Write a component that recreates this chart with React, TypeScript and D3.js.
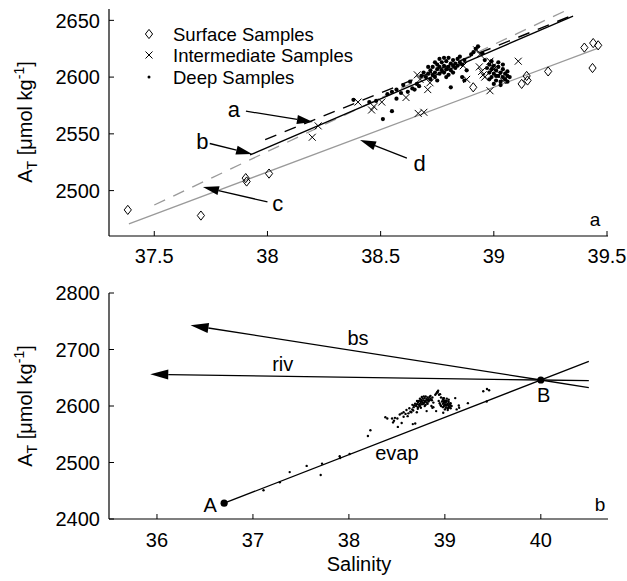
import React from "react";
import * as d3 from "d3";

// ---------- data ----------
const surfaceSamples: [number, number][] = [
  [37.383, 2483], [37.706, 2478], [37.904, 2511], [37.908, 2508], [38.007, 2515],
  [38.909, 2591], [39.123, 2594], [39.149, 2597], [39.145, 2601], [39.24, 2605],
  [39.40, 2626], [39.439, 2630], [39.461, 2628], [39.436, 2608],
];

const intermediateSamples: [number, number][] = [
  [38.198, 2547], [38.224, 2557], [38.40, 2578], [38.47, 2574], [38.505, 2578],
  [38.46, 2571], [38.612, 2582], [38.666, 2568], [38.691, 2569], [38.662, 2602],
  [38.674, 2598], [38.708, 2589], [38.718, 2595], [38.865, 2610], [38.88, 2598],
  [38.924, 2624], [38.939, 2620], [38.936, 2609], [38.946, 2605], [38.953, 2602],
  [38.983, 2614], [38.983, 2588], [38.995, 2609], [39.108, 2614], [39.027, 2603],
  [39.04, 2597], [39.0, 2607], [38.96, 2600],
];

const deepSamples: [number, number][] = [
  // main cluster
  [38.70, 2600], [38.71, 2603], [38.72, 2598], [38.72, 2606], [38.73, 2602], [38.73, 2609],
  [38.74, 2604], [38.74, 2600], [38.75, 2607], [38.75, 2611], [38.76, 2603], [38.76, 2609],
  [38.77, 2606], [38.77, 2613], [38.78, 2604], [38.78, 2610], [38.79, 2607], [38.79, 2614],
  [38.80, 2602], [38.80, 2609], [38.81, 2612], [38.81, 2606], [38.82, 2610], [38.82, 2615],
  [38.83, 2608], [38.83, 2612], [38.84, 2610], [38.84, 2616], [38.85, 2613], [38.86, 2611],
  [38.76, 2616], [38.78, 2617], [38.74, 2613], [38.71, 2609], [38.69, 2604], [38.68, 2601],
  [38.79, 2600], [38.75, 2597], [38.82, 2604], [38.85, 2618], [38.87, 2615], [38.80, 2617],
  // second cluster
  [38.97, 2608], [38.98, 2604], [38.98, 2611], [38.99, 2600], [38.99, 2607], [39.00, 2603],
  [39.00, 2610], [39.01, 2597], [39.01, 2606], [39.02, 2601], [39.02, 2609], [39.03, 2604],
  [39.03, 2596], [39.04, 2607], [39.04, 2600], [39.05, 2603], [39.05, 2598], [39.06, 2605],
  [39.06, 2596], [39.07, 2600], [39.02, 2613], [39.00, 2594], [38.99, 2614], [39.04, 2611],
  [39.03, 2593], [39.06, 2601], [39.01, 2601], [38.98, 2598],
  // scattered
  [38.38, 2580], [38.45, 2578], [38.48, 2579], [38.51, 2563], [38.53, 2585], [38.55, 2587],
  [38.57, 2589], [38.55, 2570], [38.57, 2581], [38.59, 2586], [38.62, 2587], [38.64, 2590],
  [38.65, 2589], [38.66, 2594], [38.67, 2592], [38.81, 2591], [38.86, 2600], [38.87, 2597],
  [38.88, 2606], [38.90, 2620], [38.91, 2622], [38.93, 2627], [38.92, 2625], [38.95, 2621],
  [38.96, 2615], [38.60, 2593], [38.63, 2596],
];

const extraLowSamples: [number, number][] = [
  [37.11, 2451], [37.28, 2465], [37.56, 2494], [37.72, 2498],
];

// regression lines (top panel): [S0, A0, S1, A1]
const lineA: number[] = [37.99, 2545, 39.33, 2653];   // black dashed
const lineB: number[] = [37.923, 2531.4, 39.35, 2653.8]; // black solid
const lineC: number[] = [37.5, 2487.3, 39.322, 2659];  // grey dashed
const lineD: number[] = [37.388, 2470.6, 39.458, 2625.4]; // grey solid

// annotation arrows (top): label, labelPos, tail, tip
const topArrows = [
  { label: "a", lx: 37.852, ly: 2564.5, tail: [37.905, 2570], tip: [38.201, 2560.4] },
  { label: "b", lx: 37.712, ly: 2537, tail: [37.745, 2541.5], tip: [37.932, 2532.2] },
  { label: "c", lx: 38.045, ly: 2482, tail: [38.0, 2490], tip: [37.715, 2503.2] },
  { label: "d", lx: 38.672, ly: 2517, tail: [38.616, 2528.7], tip: [38.409, 2544.6] },
];

// bottom panel end-members
const pointA: [number, number] = [36.7, 2428];
const pointB: [number, number] = [40.0, 2646];
const evapEnd: [number, number] = [40.5, 2679];
const rivTip: [number, number] = [35.93, 2656];
const rivEnd: [number, number] = [40.5, 2644.8];
const bsTip: [number, number] = [36.35, 2743];
const bsEnd: [number, number] = [40.5, 2632.7];

const topXTicks = [37.5, 38, 38.5, 39, 39.5];
const topYTicks = [2500, 2550, 2600, 2650];
const botXTicks = [36, 37, 38, 39, 40];
const botYTicks = [2400, 2500, 2600, 2700, 2800];

const legendLabels = ["Surface Samples", "Intermediate Samples", "Deep Samples"];

// ---------- scales ----------
const xs = d3.scaleLinear().domain([37.3, 39.5]).range([109, 607]);
const ys = d3.scaleLinear().domain([2460, 2660]).range([236, 9]);
const xb = d3.scaleLinear().domain([35.5, 40.7]).range([109, 608]);
const yb = d3.scaleLinear().domain([2400, 2800]).range([519, 293]);

const FONT = "'Liberation Sans', Arial, Helvetica, sans-serif";
const GREY = "#9a9a9a";

function Arrow({ x1, y1, x2, y2, len = 16, hw = 4.5 }: any) {
  const dx = x2 - x1, dy = y2 - y1;
  const L = Math.sqrt(dx * dx + dy * dy);
  const ux = dx / L, uy = dy / L;
  const bx = x2 - ux * len, by = y2 - uy * len;
  const px = -uy * hw, py = ux * hw;
  return (
    <g>
      <line x1={x1} y1={y1} x2={bx} y2={by} stroke="#000" strokeWidth={1.3} />
      <polygon points={`${x2},${y2} ${bx + px},${by + py} ${bx - px},${by - py}`} fill="#000" />
    </g>
  );
}

function Diamond({ cx, cy }: any) {
  const w = 3.6, h = 4.6;
  return <polygon points={`${cx},${cy - h} ${cx + w},${cy} ${cx},${cy + h} ${cx - w},${cy}`} fill="none" stroke="#000" strokeWidth={1} />;
}
function Cross({ cx, cy }: any) {
  const s = 3.5;
  return <path d={`M${cx - s},${cy - s}L${cx + s},${cy + s}M${cx - s},${cy + s}L${cx + s},${cy - s}`} stroke="#000" strokeWidth={1} />;
}

function YTitle({ x, y }: any) {
  return (
    <text transform={`translate(${x},${y}) rotate(-90)`} textAnchor="middle" fontFamily={FONT} fontSize={20}>
      <tspan>A</tspan>
      <tspan fontSize={14} dy={5}>T</tspan>
      <tspan dy={-5}> [μmol kg</tspan>
      <tspan fontSize={14} dy={-8}>-1</tspan>
      <tspan dy={8}>]</tspan>
    </text>
  );
}

export default function App() {
  const line = (l: number[], sx: any, sy: any, props: any) => (
    <line x1={sx(l[0])} y1={sy(l[1])} x2={sx(l[2])} y2={sy(l[3])} {...props} />
  );
  const allSamples = [...surfaceSamples, ...intermediateSamples, ...deepSamples, ...extraLowSamples];
  return (
    <svg width={627} height={581} style={{ position: "absolute", left: 0, top: 0, background: "#fff" }} fontFamily={FONT}>
      {/* ---------- top panel ---------- */}
      <g>
        {line(lineD, xs, ys, { stroke: GREY, strokeWidth: 1.3 })}
        {line(lineC, xs, ys, { stroke: GREY, strokeWidth: 1.3, strokeDasharray: "12 9" })}
        {line(lineB, xs, ys, { stroke: "#000", strokeWidth: 1.4 })}
        {line(lineA, xs, ys, { stroke: "#000", strokeWidth: 1.4, strokeDasharray: "12 9" })}
        {deepSamples.map((d, i) => <circle key={"d" + i} cx={xs(d[0])} cy={ys(d[1])} r={2.1} fill="#000" />)}
        {intermediateSamples.map((d, i) => <Cross key={"i" + i} cx={xs(d[0])} cy={ys(d[1])} />)}
        {surfaceSamples.map((d, i) => <Diamond key={"s" + i} cx={xs(d[0])} cy={ys(d[1])} />)}
        {topArrows.map((a) => (
          <g key={a.label}>
            <Arrow x1={xs(a.tail[0])} y1={ys(a.tail[1])} x2={xs(a.tip[0])} y2={ys(a.tip[1])} />
            <text x={xs(a.lx)} y={ys(a.ly)} textAnchor="middle" fontSize={22}>{a.label}</text>
          </g>
        ))}
        <line x1={109} y1={236} x2={608} y2={236} stroke="#000" strokeWidth={1.2} />
        <line x1={109} y1={9} x2={109} y2={236} stroke="#000" strokeWidth={1.2} />
        {topXTicks.map((t) => (
          <g key={t}>
            <line x1={xs(t)} y1={236} x2={xs(t)} y2={231} stroke="#000" />
            <text x={xs(t)} y={263} textAnchor="middle" fontSize={20}>{t}</text>
          </g>
        ))}
        {topYTicks.map((t) => (
          <g key={t}>
            <line x1={109} y1={ys(t)} x2={114} y2={ys(t)} stroke="#000" />
            <text x={100} y={ys(t)} dy="0.36em" textAnchor="end" fontSize={20}>{t}</text>
          </g>
        ))}
        <YTitle x={32} y={122} />
        <text x={595} y={226} textAnchor="middle" fontSize={19}>a</text>
        <Diamond cx={149} cy={34} />
        <Cross cx={149} cy={55} />
        <circle cx={149} cy={77} r={1.5} fill="#000" />
        {legendLabels.map((l, i) => (
          <text key={l} x={173} y={[34, 55, 77][i]} dy="0.36em" fontSize={18.5}>{l}</text>
        ))}
      </g>

      {/* ---------- bottom panel ---------- */}
      <g>
        <Arrow x1={xb(pointB[0])} y1={yb(pointB[1])} x2={xb(bsTip[0])} y2={yb(bsTip[1])} len={18} hw={5} />
        <Arrow x1={xb(pointB[0])} y1={yb(pointB[1])} x2={xb(rivTip[0])} y2={yb(rivTip[1])} len={18} hw={5} />
        <line x1={xb(pointB[0])} y1={yb(pointB[1])} x2={xb(bsEnd[0])} y2={yb(bsEnd[1])} stroke="#000" strokeWidth={1.3} />
        <line x1={xb(pointB[0])} y1={yb(pointB[1])} x2={xb(rivEnd[0])} y2={yb(rivEnd[1])} stroke="#000" strokeWidth={1.3} />
        <line x1={xb(pointA[0])} y1={yb(pointA[1])} x2={xb(evapEnd[0])} y2={yb(evapEnd[1])} stroke="#000" strokeWidth={1.3} />
        {allSamples.map((d, i) => <circle key={"b" + i} cx={xb(d[0])} cy={yb(d[1])} r={1.2} fill="#000" />)}
        <circle cx={xb(pointA[0])} cy={yb(pointA[1])} r={3.6} fill="#000" />
        <circle cx={xb(pointB[0])} cy={yb(pointB[1])} r={3.6} fill="#000" />
        <text x={xb(38.095)} y={yb(2708)} textAnchor="middle" fontSize={20}>bs</text>
        <text x={xb(37.31)} y={yb(2662)} textAnchor="middle" fontSize={20}>riv</text>
        <text x={xb(38.5)} y={yb(2504)} textAnchor="middle" fontSize={20}>evap</text>
        <text x={xb(36.625)} y={yb(2412)} textAnchor="end" fontSize={20}>A</text>
        <text x={xb(40.03)} y={yb(2607)} textAnchor="middle" fontSize={20}>B</text>
        <line x1={109} y1={519} x2={608} y2={519} stroke="#000" strokeWidth={1.2} />
        <line x1={109} y1={293} x2={109} y2={519} stroke="#000" strokeWidth={1.2} />
        {botXTicks.map((t) => (
          <g key={t}>
            <line x1={xb(t)} y1={519} x2={xb(t)} y2={514} stroke="#000" />
            <text x={xb(t)} y={547} textAnchor="middle" fontSize={20}>{t}</text>
          </g>
        ))}
        {botYTicks.map((t) => (
          <g key={t}>
            <line x1={109} y1={yb(t)} x2={114} y2={yb(t)} stroke="#000" />
            <text x={100} y={yb(t)} dy="0.36em" textAnchor="end" fontSize={20}>{t}</text>
          </g>
        ))}
        <YTitle x={32} y={406} />
        <text x={359} y={571} textAnchor="middle" fontSize={20}>Salinity</text>
        <text x={600} y={511} textAnchor="middle" fontSize={19}>b</text>
      </g>
    </svg>
  );
}
